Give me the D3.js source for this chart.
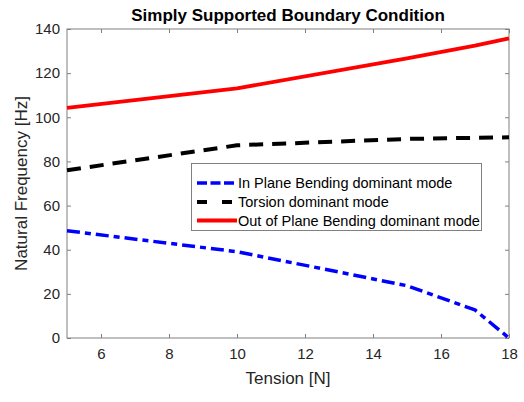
<!DOCTYPE html>
<html><head><meta charset="utf-8">
<script src="https://cdn.jsdelivr.net/npm/d3@7"></script>
<style>body{margin:0;background:#fff}svg{display:block}</style>
</head><body>
<svg id="c" width="524" height="402"></svg>
<script>
const tension = [5, 10, 15, 17, 18];
const inPlane = [48.6, 39.1, 23.7, 12.7, 0];
const torsion = [76.0, 87.3, 90.2, 90.7, 90.9];
const outPlane = [104.3, 113.1, 126.7, 132.5, 135.8];
const seriesNames = ["In Plane Bending dominant mode", "Torsion dominant mode", "Out of Plane Bending dominant mode"];
const xTicks = [6, 8, 10, 12, 14, 16, 18];
const yTicks = [0, 20, 40, 60, 80, 100, 120, 140];

const svg = d3.select("#c");
const L = 67, R = 509, T = 29, B = 338;
const x = d3.scaleLinear().domain([5, 18]).range([L, R]);
const y = d3.scaleLinear().domain([0, 140]).range([B, T]);
const font = "'Liberation Sans', Arial, sans-serif";
const axisCol = "#808080", textCol = "#262626";

svg.append("rect").attr("x", L).attr("y", T).attr("width", R - L).attr("height", B - T)
  .attr("fill", "none").attr("stroke", axisCol).attr("stroke-width", 1);

function styleAxis(g) {
  g.select(".domain").remove();
  g.selectAll(".tick line").attr("stroke", axisCol);
  g.selectAll(".tick text").attr("fill", textCol).style("font-family", font).style("font-size", "15px");
}
svg.append("g").attr("transform", `translate(0,${B})`)
  .call(d3.axisBottom(x).tickValues(xTicks).tickSize(-4).tickPadding(10).tickFormat(d3.format("d")))
  .call(styleAxis);
svg.append("g").attr("transform", `translate(0,${T})`)
  .call(d3.axisTop(x).tickValues(xTicks).tickSize(-4).tickFormat(""))
  .call(styleAxis);
svg.append("g").attr("transform", `translate(${L},0)`)
  .call(d3.axisLeft(y).tickValues(yTicks).tickSize(-4).tickPadding(7).tickFormat(d3.format("d")))
  .call(styleAxis);
svg.append("g").attr("transform", `translate(${R},0)`)
  .call(d3.axisRight(y).tickValues(yTicks).tickSize(-4).tickFormat(""))
  .call(styleAxis);

const styles = [
  {data: inPlane, color: "#0000ff", w: 3.5, dash: "13,5,6,5"},
  {data: torsion, color: "#000000", w: 4, dash: "14,9"},
  {data: outPlane, color: "#ff0000", w: 3.8, dash: null}
];
const line = d3.line().x((d, i) => x(tension[i])).y(d => y(d));
styles.forEach(s => {
  svg.append("path").datum(s.data).attr("d", line).attr("fill", "none")
    .attr("stroke", s.color).attr("stroke-width", s.w)
    .attr("stroke-dasharray", s.dash).attr("stroke-linejoin", "round");
});

svg.append("text").attr("x", 288).attr("y", 21).attr("text-anchor", "middle")
  .style("font-family", font).style("font-size", "17px").style("font-weight", "bold").attr("fill", "#000")
  .text("Simply Supported Boundary Condition");
svg.append("text").attr("x", 288).attr("y", 384).attr("text-anchor", "middle")
  .style("font-family", font).style("font-size", "17px").attr("fill", textCol).text("Tension [N]");
svg.append("text").attr("transform", `translate(27,${(T + B) / 2}) rotate(-90)`).attr("text-anchor", "middle")
  .style("font-family", font).style("font-size", "17px").attr("fill", textCol).text("Natural Frequency [Hz]");

const lg = svg.append("g");
lg.append("rect").attr("x", 191.5).attr("y", 163.5).attr("width", 290).attr("height", 67)
  .attr("fill", "#fff").attr("stroke", "#808080").attr("stroke-width", 1);
const rowsY = [183, 202, 220.5];
styles.forEach((s, i) => {
  lg.append("line").attr("x1", 197).attr("x2", 237).attr("y1", rowsY[i]).attr("y2", rowsY[i])
    .attr("stroke", s.color).attr("stroke-width", s.w)
    .attr("stroke-dasharray", i === 0 ? "10,3.5" : i === 1 ? "10,15" : null);
  lg.append("text").attr("x", 238).attr("y", rowsY[i] + 5)
    .style("font-family", font).style("font-size", "14.5px").attr("fill", "#000").text(seriesNames[i]);
});
</script>
</body></html>
